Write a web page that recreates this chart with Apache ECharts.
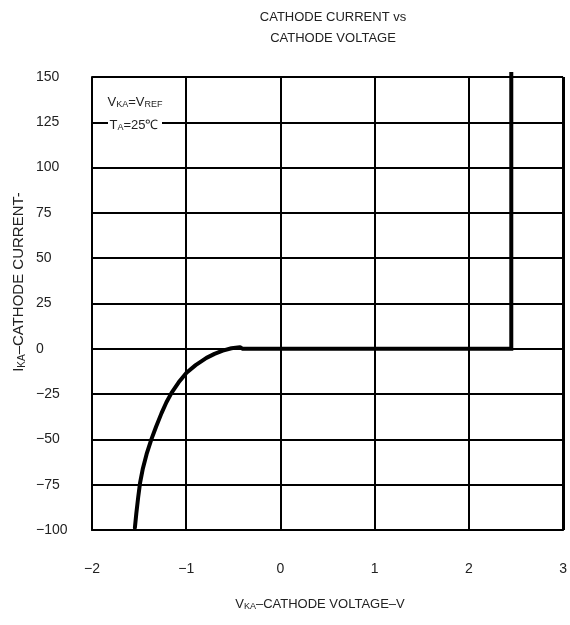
<!DOCTYPE html>
<html>
<head>
<meta charset="utf-8">
<script src="https://cdn.jsdelivr.net/npm/echarts@6/dist/echarts.min.js"></script>
<style>
html,body{margin:0;padding:0;background:#fff;}
#c{width:570px;height:625px;}
</style>
</head>
<body>
<div id="c"></div>
<script>
// Data: reverse (curved) region
const reverseVolts = [-1.545, -1.53, -1.51, -1.49, -1.46, -1.42, -1.37, -1.32, -1.262, -1.21, -1.156, -1.08, -0.997, -0.9, -0.785, -0.7, -0.612, -0.52, -0.43];
const reverseMilliamps = [-98.8, -91, -82, -74, -66, -58, -50, -43, -35.5, -29.5, -24.3, -18.5, -13.2, -9, -5, -2.8, -1, 0.3, 0.8];
// flat region and regulation (vertical) region
const forwardVolts = [-0.43, -0.40, 2.45, 2.45];
const forwardMilliamps = [0.8, 0, 0, 152.7];
const xTickValues = [-2, -1, 0, 1, 2, 3];
const yTickValues = [-100, -75, -50, -25, 0, 25, 50, 75, 100, 125, 150];
const chartTitle = ['CATHODE CURRENT vs', 'CATHODE VOLTAGE'];

const font = 'Liberation Sans, Arial, sans-serif';
const minus = v => String(v).replace('-', '−');
const sub = {fontSize: 9, fontFamily: font, fill: '#222', verticalAlign: 'bottom', padding: [6, 0, 0, 0]};

const chart = echarts.init(document.getElementById('c'), null, {renderer: 'canvas'});

chart.setOption({
  animation: false,
  backgroundColor: '#fff',
  grid: {left: 92, right: 6, top: 77, bottom: 95, show: false},
  xAxis: {
    type: 'value', min: xTickValues[0], max: xTickValues[xTickValues.length - 1], interval: 1,
    axisLine: {show: true, onZero: false, lineStyle: {color: '#000', width: 2}},
    axisTick: {show: false},
    splitLine: {show: true, lineStyle: {color: '#000', width: 2}},
    axisLabel: {margin: 32, color: '#222', fontSize: 14, fontFamily: font, formatter: minus}
  },
  yAxis: {
    type: 'value', min: yTickValues[0], max: yTickValues[yTickValues.length - 1], interval: 25,
    axisLine: {show: true, onZero: false, lineStyle: {color: '#000', width: 2}},
    axisTick: {show: false},
    splitLine: {show: true, lineStyle: {color: '#000', width: 2}},
    axisLabel: {margin: 56, align: 'left', color: '#222', fontSize: 14, fontFamily: font, formatter: minus}
  },
  series: [{
    type: 'line', data: reverseVolts.map((v, i) => [v, reverseMilliamps[i]]), smooth: false, symbol: 'none', clip: false,
    lineStyle: {color: '#000', width: 4, join: 'round', cap: 'round'}
  }, {
    type: 'line', data: forwardVolts.map((v, i) => [v, forwardMilliamps[i]]), smooth: false, symbol: 'none', clip: false,
    lineStyle: {color: '#000', width: 4, join: 'miter', cap: 'butt'}
  }],
  graphic: [
    {type: 'line', shape: {x1: 564, y1: 77, x2: 564, y2: 530}, style: {stroke: '#000', lineWidth: 2}, z: 5},
    {type: 'text', x: 333, y: 17, style: {text: 'CATHODE CURRENT vs', font: '13px ' + font, fill: '#222', align: 'center', verticalAlign: 'middle'}},
    {type: 'text', x: 333, y: 38, style: {text: chartTitle[1], font: '13px ' + font, fill: '#222', align: 'center', verticalAlign: 'middle'}},
    {type: 'text', x: 320, y: 604, style: {
      text: 'V{s|KA}–CATHODE VOLTAGE–V', rich: {s: sub},
      font: '13px ' + font, fill: '#222', align: 'center', verticalAlign: 'middle'}},
    {type: 'text', x: 19, y: 282, rotation: Math.PI / 2, style: {
      text: 'I{s|KA}–CATHODE CURRENT-', rich: {s: Object.assign({}, sub, {fontSize: 10})},
      font: '15px ' + font, fill: '#222', align: 'center', verticalAlign: 'middle'}},
    {type: 'rect', shape: {x: 108, y: 116, width: 54, height: 18}, style: {fill: '#fff'}, z: 10},
    {type: 'text', x: 135, y: 102, z: 11, style: {
      text: 'V{s|KA}=V{s|REF}', rich: {s: sub},
      font: '13px ' + font, fill: '#222', align: 'center', verticalAlign: 'middle'}},
    {type: 'text', x: 134, y: 125, z: 11, style: {
      text: 'T{s|A}=25℃', rich: {s: sub},
      font: '13px ' + font, fill: '#222', align: 'center', verticalAlign: 'middle'}}
  ]
});
</script>
</body>
</html>
